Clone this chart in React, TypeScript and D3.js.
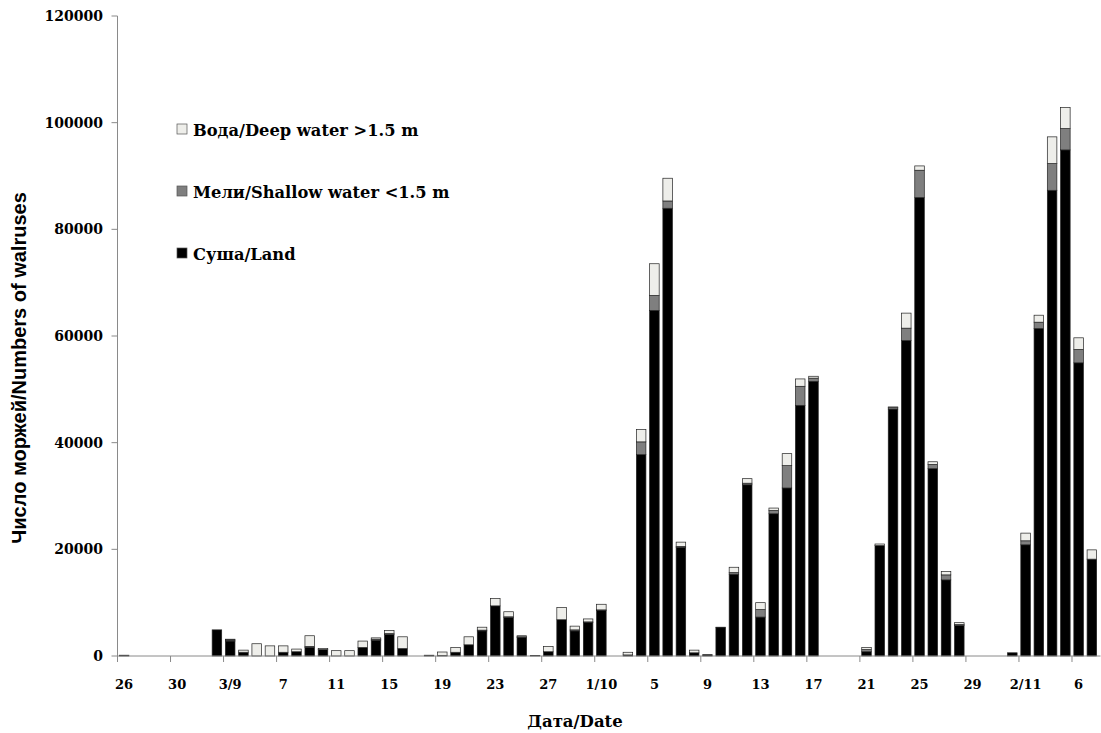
import React from 'react';
import * as d3 from 'd3';

// one category per day, 26 Aug .. 7 Nov
const days = [
  '26/8', '27/8', '28/8', '29/8', '30/8', '31/8',
  '1/9', '2/9', '3/9', '4/9', '5/9', '6/9', '7/9', '8/9', '9/9', '10/9',
  '11/9', '12/9', '13/9', '14/9', '15/9', '16/9', '17/9', '18/9', '19/9', '20/9',
  '21/9', '22/9', '23/9', '24/9', '25/9', '26/9', '27/9', '28/9', '29/9', '30/9',
  '1/10', '2/10', '3/10', '4/10', '5/10', '6/10', '7/10', '8/10', '9/10', '10/10',
  '11/10', '12/10', '13/10', '14/10', '15/10', '16/10', '17/10', '18/10', '19/10', '20/10',
  '21/10', '22/10', '23/10', '24/10', '25/10', '26/10', '27/10', '28/10', '29/10', '30/10', '31/10',
  '1/11', '2/11', '3/11', '4/11', '5/11', '6/11', '7/11',
];

// shown under every 4th day
const tickLabels = ['26', '30', '3/9', '7', '11', '15', '19', '23', '27', '1/10', '5', '9', '13', '17', '21', '25', '29', '2/11', '6'];

const land = [
  150, 0, 0, 0, 0, 0, 0, 4900, 2800, 700,
  0, 0, 700, 800, 1600, 1200, 0, 0, 1600, 2950,
  4000, 1400, 0, 150, 100, 700, 2100, 4700, 9400, 7200,
  3500, 100, 800, 6800, 4700, 6250, 8500, 0, 200, 37750,
  64800, 83950, 20350, 600, 250, 5300, 15340, 32100, 7300, 26670,
  31500, 47000, 51500, 0, 0, 0, 800, 20700, 46300, 59150,
  85950, 35120, 14270, 5700, 0, 0, 0, 600, 20850, 61400,
  87320, 94890, 54970, 18160,
];

const shallow = [
  0, 0, 0, 0, 0, 0, 0, 0, 200, 0,
  0, 0, 0, 0, 200, 0, 0, 0, 0, 200,
  200, 0, 0, 0, 0, 0, 0, 150, 0, 150,
  100, 0, 0, 0, 200, 150, 150, 0, 0, 2400,
  2800, 1370, 200, 0, 0, 0, 300, 300, 1400, 620,
  4190, 3570, 600, 0, 0, 0, 400, 0, 300, 2320,
  5130, 800, 940, 200, 0, 0, 0, 0, 750, 1190,
  5010, 4000, 2500, 0,
];

const deep = [
  0, 0, 0, 0, 0, 0, 0, 0, 150, 400,
  2300, 1900, 1200, 500, 2000, 200, 1000, 1000, 1200, 250,
  600, 2200, 0, 0, 650, 900, 1500, 550, 1400, 950,
  200, 0, 1000, 2300, 700, 550, 1050, 0, 500, 2300,
  5950, 4260, 800, 500, 0, 100, 1000, 850, 1300, 450,
  2250, 1380, 350, 0, 0, 0, 400, 300, 100, 2820,
  810, 500, 620, 350, 0, 0, 0, 0, 1440, 1310,
  5010, 3940, 2190, 1740,
];

const yTicks = [0, 20000, 40000, 60000, 80000, 100000, 120000];

const seriesKeys = ['land', 'shallow', 'deep'];
const seriesColors = { land: '#000000', shallow: '#7f7f7f', deep: '#eeeeea' };
const legendItems = [
  { key: 'deep', label: 'Вода/Deep water >1.5 m' },
  { key: 'shallow', label: 'Мели/Shallow water <1.5 m' },
  { key: 'land', label: 'Суша/Land' },
];

const W = 1101;
const H = 733;
const left = 117.5;
const right = 1098.5;
const top = 16;
const bottom = 656;

const serif = '"DejaVu Serif", serif';

export default function App() {
  const rows = days.map((d, i) => ({ day: d, land: land[i], shallow: shallow[i], deep: deep[i] }));
  const stacked = d3.stack<any>().keys(seriesKeys)(rows);

  const x = d3.scaleBand<string>()
    .domain(days)
    .range([left, right])
    .paddingInner(0.28)
    .paddingOuter(0.14);
  const step = x.step();

  const y = d3.scaleLinear().domain([0, 120000]).range([bottom, top]);

  return (
    <svg width={W} height={H} style={{ position: 'absolute', left: 0, top: 0, background: '#fff' }}>
      {/* bars */}
      {stacked.map(s => (
        <g key={s.key} fill={seriesColors[s.key]}>
          {s.map((d, i) => {
            const h = y(d[0]) - y(d[1]);
            if (h <= 0) return null;
            return (
              <rect key={i} x={x(days[i])} y={y(d[1])} width={x.bandwidth()} height={h}
                stroke="#222" strokeWidth={0.7} />
            );
          })}
        </g>
      ))}

      {/* y axis */}
      <line x1={left} x2={left} y1={top} y2={bottom} stroke="#8a8a8a" strokeWidth={1} />
      {yTicks.map(t => (
        <g key={t}>
          <line x1={left - 6} x2={left} y1={y(t)} y2={y(t)} stroke="#8a8a8a" />
          <text x={103} y={y(t)} dy="0.36em" textAnchor="end" fontFamily={serif} fontWeight="bold" fontSize={14}>{t}</text>
        </g>
      ))}

      {/* x axis */}
      <line x1={left} x2={right + 2} y1={bottom} y2={bottom} stroke="#8a8a8a" strokeWidth={1} />
      {tickLabels.map((lab, k) => {
        const d = days[k * 4];
        const bx = (x(d) as number) - step * 0.14;
        return (
          <g key={lab}>
            <line x1={bx} x2={bx} y1={bottom} y2={bottom + 6} stroke="#8a8a8a" />
            <text x={bx + step / 2} y={689} textAnchor="middle" fontFamily={serif} fontWeight="bold" fontSize={13}>{lab}</text>
          </g>
        );
      })}

      {/* axis titles */}
      <text x={575} y={727} textAnchor="middle" fontFamily={serif} fontWeight="bold" fontSize={16.5}>Дата/Date</text>
      <text transform="translate(26,368) rotate(-90)" textAnchor="middle"
        fontFamily='"Liberation Sans", sans-serif' fontWeight="bold" fontSize={20}>Число моржей/Numbers of walruses</text>

      {/* legend */}
      {legendItems.map((it, i) => {
        const cy = 130 + i * 62;
        return (
          <g key={it.key}>
            <rect x={177} y={cy - 6} width={10} height={10} fill={seriesColors[it.key]} stroke="#555" strokeWidth={0.7} />
            <text x={193} y={cy} dy="0.36em" fontFamily={serif} fontWeight="bold" fontSize={16.3}>{it.label}</text>
          </g>
        );
      })}
    </svg>
  );
}
